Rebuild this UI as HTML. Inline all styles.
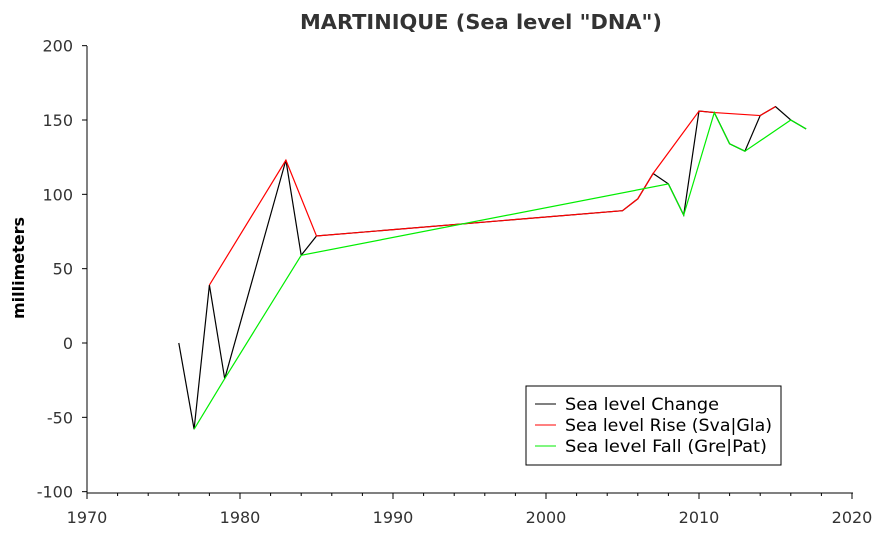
<!DOCTYPE html>
<html><head><meta charset="utf-8"><style>
body{margin:0;background:#fff;font-family:"Liberation Sans","DejaVu Sans",sans-serif}
text{font-family:"DejaVu Sans","Liberation Sans",sans-serif}
</style></head><body>
<svg id="c" width="891" height="530" xmlns="http://www.w3.org/2000/svg"></svg>
<script>
const years=[1976,1977,1978,1979,1983,1984,1985,2005,2006,2007,2008,2009,2010,2011,2012,2013,2014,2015,2016,2017];
const change=[0,-58,39,-24,123,59,72,89,97,114,107,86,156,155,134,129,153,159,150,144];
const riseYears=[1978,1983,1985,2005,2006,2007,2010,2011,2014,2015];
const riseVals=[39,123,72,89,97,114,156,155,153,159];
const fallYears=[1977,1979,1984,2008,2009,2011,2012,2013,2016,2017];
const fallVals=[-58,-24,59,107,86,155,134,129,150,144];
const xTicks=[1970,1980,1990,2000,2010,2020];
const yTicks=[-100,-50,0,50,100,150,200];
const svg=document.getElementById('c');const NS='http://www.w3.org/2000/svg';
const X=v=>87+(v-1970)*(852-87)/50, Y=v=>343-v*(446/300);
function el(t,a,p){const e=document.createElementNS(NS,t);for(const k in a)e.setAttribute(k,a[k]);(p||svg).appendChild(e);return e;}
let t=el('text',{x:300,y:29,'font-size':20,'font-weight':'bold',fill:'#333',textLength:362,lengthAdjust:'spacingAndGlyphs'});t.textContent='MARTINIQUE (Sea level "DNA")';

t=el('text',{x:24,y:268,'text-anchor':'middle','font-size':16,'font-weight':'bold',fill:'#000',transform:'rotate(-90 24 268)'});t.textContent='millimeters';

let a=el('line',{x1:87,y1:46,x2:87,y2:493,stroke:'#000'});
a=el('line',{x1:87,y1:493,x2:853,y2:493,stroke:'#000'});
yTicks.forEach(v=>{el('line',{x1:82,x2:87,y1:Y(v),y2:Y(v),stroke:'#000'});let s=el('text',{x:73,y:Y(v)+6,'text-anchor':'end','font-size':16,fill:'#333'});s.textContent=v;
});
for(let y=1970;y<=2020;y+=2){el('line',{x1:X(y),x2:X(y),y1:493,y2:y%10==0?499:496,stroke:'#000'});}
xTicks.forEach(v=>{let s=el('text',{x:X(v),y:523,'text-anchor':'middle','font-size':16,fill:'#333'});s.textContent=v;
});
function line(xs,vs,c,n){const p=el('polyline',{points:xs.map((x,i)=>X(x)+','+Y(vs[i])).join(' '),fill:'none',stroke:c,'stroke-width':1.2});
}
line(years,change,'#000','series-change');line(riseYears,riseVals,'#ff0000','series-rise');line(fallYears,fallVals,'#00ee00','series-fall');
const g=el('g',{});
el('rect',{x:526,y:386,width:255,height:79,fill:'#fff',stroke:'#000'},g);
[['Sea level Change','#000',154],['Sea level Rise (Sva|Gla)','#ff0000',207],['Sea level Fall (Gre|Pat)','#00ee00',202]].forEach((d,i)=>{
const yy=404+i*21;el('line',{x1:535,x2:556,y1:yy,y2:yy,stroke:d[1]},g);
const s=el('text',{x:565,y:yy+6,'font-size':17,fill:'#000',textLength:d[2],lengthAdjust:'spacingAndGlyphs'},g);s.textContent=d[0];
});
</script></body></html>
